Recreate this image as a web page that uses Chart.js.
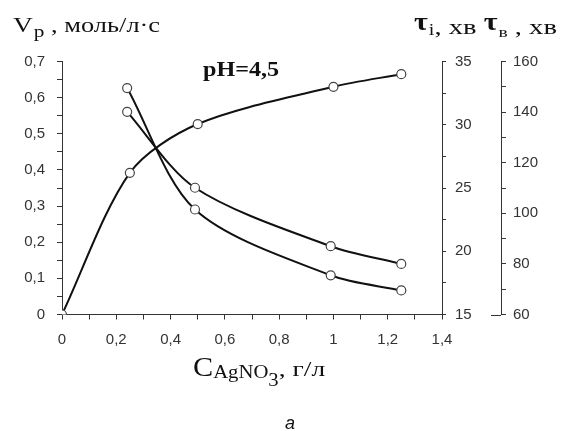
<!DOCTYPE html>
<html>
<head>
<meta charset="utf-8">
<script src="https://cdn.jsdelivr.net/npm/chart.js@4.4.0/dist/chart.umd.min.js"></script>
<style>
  html, body { margin: 0; padding: 0; background: #fff; }
  #wrap { width: 563px; height: 431px; }
</style>
</head>
<body>
<div id="wrap"><canvas id="chart" width="563" height="431"></canvas></div>
<script>
'use strict';

// концентрація AgNO3, г/л
const concV = [0, 0.25, 0.5, 1.0, 1.25];
const concT = [0.24, 0.49, 0.99, 1.25];

// швидкість реакції, моль/л·с
const vRate = [0, 0.392, 0.527, 0.630, 0.665];
// τi, хв
const tauI = [32.9, 23.3, 18.1, 16.9];
// τв, хв
const tauB = [140.1, 110.1, 87.0, 80.0];

const xTicks = [0, 0.2, 0.4, 0.6, 0.8, 1, 1.2, 1.4];
const vTicks = [0, 0.1, 0.2, 0.3, 0.4, 0.5, 0.6, 0.7];
const tauITicks = [15, 20, 25, 30, 35];
const tauBTicks = [60, 80, 100, 120, 140, 160];

const toPoints = (xs, ys) => xs.map((x, i) => ({ x: x, y: ys[i] }));
const comma = v => String(+v.toFixed(2)).replace('.', ',');
const isMajor = (list, v) => list.some(t => Math.abs(t - v) < 1e-6);

const tickFont = { family: 'Liberation Sans', size: 15 };
const tickColor = '#333';

function axisStyle(len) {
    return {
        grid: { drawOnChartArea: false, drawTicks: true, tickLength: len, color: '#333', lineWidth: 1 },
        border: { display: true, color: '#333', width: 1 }
    };
}

const lineStyle = {
    borderColor: '#111',
    borderWidth: 2,
    pointRadius: 4.5,
    pointBackgroundColor: '#fff',
    pointBorderColor: '#444',
    pointBorderWidth: 1.2,
    tension: 0.3,
    fill: false
};

// текст, розтягнутий по горизонталі
function txt(ctx, s, x, y, font, sx) {
    ctx.save();
    ctx.font = font;
    ctx.translate(x, y);
    ctx.scale(sx, 1);
    ctx.fillText(s, 0, 0);
    const w = ctx.measureText(s).width * sx;
    ctx.restore();
    return x + w;
}

/* підписи */
const labels = {
    id: 'labels',
    afterDraw(chart) {
        const ctx = chart.ctx;
        const serif = '"Liberation Serif"';
        ctx.save();
        ctx.fillStyle = '#111';
        ctx.textBaseline = 'alphabetic';
        ctx.textAlign = 'left';

        let x = 13;
        x = txt(ctx, 'V', x, 32, '22px ' + serif, 1.25);
        x = txt(ctx, 'р', x + 1, 37, '17px ' + serif, 1.25);
        txt(ctx, ' , моль/л·с', x, 32, '22px ' + serif, 1.2);

        x = 414;
        x = txt(ctx, 'τ', x, 30, 'bold 25px ' + serif, 1.2);
        x = txt(ctx, 'i', x + 1, 35, '16px ' + serif, 1.25);
        x = txt(ctx, ', хв ', x, 34, '22px ' + serif, 1.3);
        x = txt(ctx, 'τ', x, 30, 'bold 25px ' + serif, 1.2);
        x = txt(ctx, 'в', x + 1, 37, '15px ' + serif, 1.3);
        txt(ctx, ' , хв', x, 34, '22px ' + serif, 1.3);

        txt(ctx, 'pH=4,5', 203, 76, 'bold 21px ' + serif, 1.15);

        x = 193;
        x = txt(ctx, 'C', x, 376, '27px ' + serif, 1.12);
        x = txt(ctx, 'AgNO', x, 378, '18px ' + serif, 1.15);
        x = txt(ctx, '3', x, 386, '18px ' + serif, 1.15);
        txt(ctx, ', г/л', x, 376, '22px ' + serif, 1.25);

        ctx.font = 'italic 18px "Liberation Sans"';
        ctx.textAlign = 'center';
        ctx.fillText('а', 290, 429);

        // хрестик на нижньому кінці осі τв
        const sb = chart.scales.yB;
        const yb = sb.getPixelForValue(sb.min);
        ctx.strokeStyle = '#333';
        ctx.lineWidth = 1;
        ctx.beginPath();
        ctx.moveTo(sb.left - 10, Math.round(yb) + 0.5);
        ctx.lineTo(sb.left, Math.round(yb) + 0.5);
        ctx.stroke();
        ctx.restore();
    }
};

new Chart(document.getElementById('chart'), {
    type: 'line',
    data: {
        datasets: [
            Object.assign({ data: toPoints(concV, vRate), yAxisID: 'y' }, lineStyle),
            Object.assign({ data: toPoints(concT, tauI), yAxisID: 'yI' }, lineStyle),
            Object.assign({ data: toPoints(concT, tauB), yAxisID: 'yB' }, lineStyle)
        ]
    },
    options: {
        responsive: false,
        animation: false,
        layout: { padding: { top: 61.5, left: 0, right: 0, bottom: 0 } },
        plugins: { legend: { display: false }, tooltip: { enabled: false } },
        scales: {
            x: Object.assign({
                type: 'linear',
                min: 0, max: 1.4,
                afterFit: s => { s.height = 116.5; },
                ticks: {
                    stepSize: 0.1, autoSkip: false, maxRotation: 0,
                    padding: 11, color: tickColor, font: tickFont,
                    callback: v => isMajor(xTicks, v) ? comma(v) : ''
                }
            }, axisStyle(5)),
            y: Object.assign({
                position: 'left',
                min: 0, max: 0.7,
                afterFit: s => { s.width = 62; },
                ticks: {
                    stepSize: 0.05, autoSkip: false,
                    padding: 12, color: tickColor, font: tickFont,
                    callback: v => isMajor(vTicks, v) ? comma(v) : ''
                }
            }, axisStyle(5)),
            yI: Object.assign({
                position: 'right',
                weight: 0,
                min: 15, max: 35,
                afterFit: s => { s.width = 59; },
                ticks: {
                    stepSize: 2.5, autoSkip: false,
                    padding: 9, color: tickColor, font: tickFont,
                    callback: v => isMajor(tauITicks, v) ? String(v) : ''
                }
            }, axisStyle(4)),
            yB: Object.assign({
                position: 'right',
                weight: 1,
                min: 60, max: 160,
                afterFit: s => { s.width = 62; },
                ticks: {
                    stepSize: 10, autoSkip: false,
                    padding: 7, color: tickColor, font: tickFont,
                    callback: v => isMajor(tauBTicks, v) ? String(v) : ''
                }
            }, axisStyle(5))
        }
    },
    plugins: [labels]
});
</script>
</body>
</html>
